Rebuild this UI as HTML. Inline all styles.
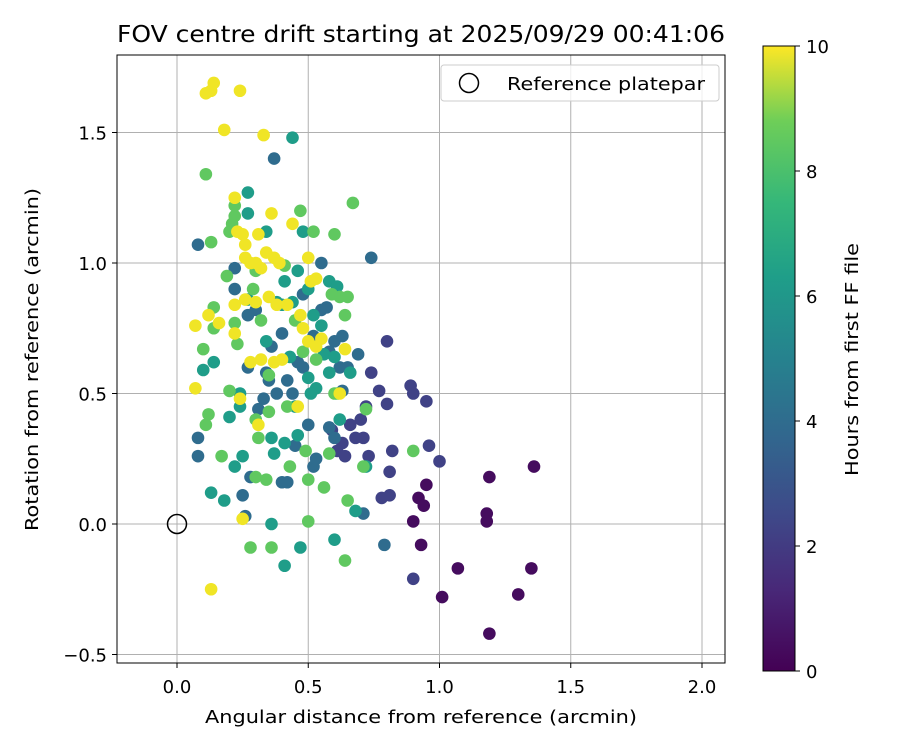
<!DOCTYPE html>
<html><head><meta charset="utf-8"><style>
body{margin:0;background:#fff;font-family:"DejaVu Sans","Liberation Sans",sans-serif}
svg text{font-family:"DejaVu Sans","Liberation Sans",sans-serif;fill:#000}
</style></head><body>
<svg id="chart" width="900" height="750">
<defs><linearGradient id="vir" x1="0" y1="1" x2="0" y2="0">
<stop offset="0" stop-color="#440154"/><stop offset="0.13" stop-color="#482878"/><stop offset="0.25" stop-color="#3e4989"/><stop offset="0.38" stop-color="#31688e"/><stop offset="0.5" stop-color="#26828e"/><stop offset="0.63" stop-color="#1f9e89"/><stop offset="0.75" stop-color="#35b779"/><stop offset="0.88" stop-color="#6ece58"/><stop offset="1" stop-color="#fde725"/>
</linearGradient></defs>
<g id="grid"></g><g id="pts"></g><g id="axes"></g>
</svg>
<script>
const NS="http://www.w3.org/2000/svg";
const xTicks=[0,0.5,1.0,1.5,2.0];
const yTicks=[-0.5,0,0.5,1.0,1.5];
const cTicks=[0,2,4,6,8,10];
const hours=[0.3,2,3.5,5.5,7.5,9.8];
const groupX=[
[1.19,1.30,1.35,1.07,1.01,1.36,1.19,1.18,1.18,0.90,0.92,0.93,0.95,0.94],
[0.90,0.96,1.00,0.95,0.89,0.90,0.82,0.81,0.78,0.81,0.80,0.80,0.73,0.71,0.70,0.72,0.77,0.74,0.66,0.68,0.63,0.61,0.64,0.59],
[0.79,0.71,0.60,0.58,0.63,0.69,0.74,0.52,0.53,0.50,0.45,0.40,0.42,0.28,0.25,0.26,0.37,0.08,0.08,0.08,0.35,0.34,0.38,0.42,0.46,0.55,0.57,0.55,0.22,0.22,0.27,0.33,0.31,0.44,0.48,0.52,0.60,0.62,0.63,0.65,0.58,0.48,0.40,0.30,0.27,0.36],
[0.27,0.34,0.34,0.38,0.44,0.50,0.55,0.53,0.51,0.58,0.58,0.61,0.62,0.66,0.72,0.68,0.60,0.41,0.37,0.36,0.46,0.24,0.20,0.24,0.14,0.10,0.18,0.13,0.22,0.25,0.41,0.36,0.47,0.40,0.41,0.46,0.48,0.52,0.50,0.45,0.43,0.56,0.60,0.44,0.27,0.27],
[0.13,0.11,0.22,0.22,0.21,0.20,0.19,0.22,0.23,0.20,0.17,0.12,0.11,0.10,0.14,0.14,0.29,0.30,0.32,0.35,0.35,0.30,0.31,0.34,0.30,0.28,0.36,0.43,0.42,0.49,0.50,0.50,0.56,0.58,0.65,0.64,0.71,0.72,0.59,0.62,0.64,0.61,0.60,0.53,0.48,0.41,0.45,0.60,0.90,0.67,0.65,0.52,0.47],
[0.11,0.14,0.13,0.24,0.18,0.33,0.36,0.31,0.22,0.23,0.25,0.26,0.26,0.28,0.30,0.32,0.34,0.37,0.39,0.44,0.50,0.53,0.51,0.22,0.26,0.30,0.35,0.38,0.42,0.47,0.48,0.12,0.07,0.16,0.22,0.28,0.32,0.37,0.40,0.07,0.24,0.31,0.46,0.55,0.64,0.62,0.25,0.13,0.50,0.53]];
const groupY=[
[-0.42,-0.27,-0.17,-0.17,-0.28,0.22,0.18,0.04,0.01,0.01,0.10,-0.08,0.15,0.07],
[-0.21,0.30,0.24,0.47,0.53,0.50,0.28,0.20,0.10,0.11,0.46,0.70,0.26,0.33,0.40,0.45,0.51,0.58,0.38,0.33,0.31,0.28,0.26,0.36],
[-0.08,0.04,0.33,0.37,0.51,0.65,1.02,0.22,0.25,0.38,0.30,0.16,0.16,0.18,0.11,0.03,1.40,1.07,0.26,0.33,0.55,0.58,0.50,0.55,0.62,0.82,0.83,1.00,0.98,0.90,0.60,0.48,0.44,0.50,0.60,0.72,0.70,0.60,0.72,0.60,0.66,0.88,0.73,0.82,0.80,0.68],
[1.27,1.12,0.70,0.85,0.85,0.90,0.76,0.52,0.50,0.58,0.93,0.91,0.40,0.58,0.22,0.05,-0.06,0.31,0.27,0.33,0.34,0.45,0.41,0.50,0.62,0.59,0.09,0.12,0.22,0.26,-0.16,0.00,-0.09,0.84,0.93,0.97,1.12,0.80,0.56,0.45,0.64,0.65,0.64,1.48,1.19,0.86],
[1.08,1.34,1.22,1.18,1.15,1.12,0.95,0.77,0.69,0.51,0.26,0.42,0.38,0.67,0.83,0.75,0.90,0.97,0.78,0.57,0.43,0.40,0.33,0.17,0.18,-0.09,-0.09,0.22,0.45,0.28,0.17,0.01,0.14,0.27,0.09,-0.14,0.22,0.44,0.88,0.87,0.80,0.50,0.50,0.63,0.66,0.99,0.78,1.11,0.28,1.23,0.87,1.12,1.20],
[1.65,1.69,1.66,1.66,1.51,1.49,1.19,1.11,1.25,1.12,1.11,1.07,1.02,1.00,1.00,0.98,1.04,1.02,1.00,1.15,1.02,0.94,0.93,0.84,0.86,0.85,0.87,0.84,0.84,0.80,0.75,0.80,0.76,0.77,0.73,0.62,0.63,0.62,0.63,0.52,0.48,0.38,0.45,0.71,0.67,0.50,0.02,-0.25,0.70,0.68]];
const L=117,R=725,T=55,B=663;
const xs=v=>177+v*262.5, ys=v=>524-v*261;
const cs=v=>671-v*62.5;
const vir=[[68,1,84],[72,40,120],[62,73,137],[49,104,142],[38,130,142],[31,158,137],[53,183,121],[110,206,88],[181,222,43],[253,231,37]];
function col(h){let t=Math.max(0,Math.min(1,h/10))*(vir.length-1);let i=Math.min(vir.length-2,Math.floor(t)),f=t-i;
const c=vir[i].map((a,k)=>Math.round(a+(vir[i+1][k]-a)*f));return `rgb(${c})`;}
function mk(tag,a,p){const e=document.createElementNS(NS,tag);for(const k in a)e.setAttribute(k,a[k]);(p||document.getElementById('chart')).appendChild(e);return e;}
const grid=document.getElementById('grid'),pts=document.getElementById('pts'),ax=document.getElementById('axes');
xTicks.forEach(v=>{const g=mk('line',{x1:xs(v),x2:xs(v),y1:T,y2:B,stroke:'#b0b0b0','stroke-width':1},grid);


mk('line',{x1:xs(v),x2:xs(v),y1:B,y2:B+5,stroke:'#000'},ax);
const t=mk('text',{x:xs(v),y:B+30,'text-anchor':'middle','font-size':18},ax);t.textContent=v.toFixed(1);

});
yTicks.forEach(v=>{const g=mk('line',{x1:L,x2:R,y1:ys(v),y2:ys(v),stroke:'#b0b0b0','stroke-width':1},grid);


mk('line',{x1:L-5,x2:L,y1:ys(v),y2:ys(v),stroke:'#000'},ax);
const t=mk('text',{x:L-10,y:ys(v)+7,'text-anchor':'end','font-size':18},ax);t.textContent=(v<0?'\u2212':'')+Math.abs(v).toFixed(1);

});
groupX.forEach((gx,gi)=>gx.forEach((x,j)=>{const c=mk('circle',{cx:xs(x),cy:ys(groupY[gi][j]),r:6.3,fill:col(hours[gi])},pts);

}));
const ref=mk('circle',{cx:xs(0),cy:ys(0),r:9.5,fill:'none',stroke:'#000','stroke-width':1.5},ax);


mk('rect',{x:L,y:T,width:R-L,height:B-T,fill:'none',stroke:'#000','stroke-width':1},ax);
const cb=mk('rect',{x:763,y:46,width:32,height:625,fill:'url(#vir)',stroke:'#000','stroke-width':1},ax);


cTicks.forEach(v=>{mk('line',{x1:795,x2:800,y1:cs(v),y2:cs(v),stroke:'#000'},ax);
const t=mk('text',{x:806,y:cs(v)+7,'font-size':18},ax);t.textContent=v;

});
</script>
<svg style="position:absolute;left:0;top:0" width="900" height="750">
<text x="117" y="42" font-size="23" textLength="608" lengthAdjust="spacingAndGlyphs">FOV centre drift starting at 2025/09/29 00:41:06</text>
<text x="205" y="723" font-size="18" textLength="432" lengthAdjust="spacingAndGlyphs">Angular distance from reference (arcmin)</text>
<text transform="translate(38,531) rotate(-90)" font-size="18" textLength="343" lengthAdjust="spacingAndGlyphs">Rotation from reference (arcmin)</text>
<text transform="translate(858,476) rotate(-90)" font-size="18" textLength="233" lengthAdjust="spacingAndGlyphs">Hours from first FF file</text>
<g>
<rect x="441" y="65" width="278" height="36" rx="3" fill="#fff" fill-opacity="0.8" stroke="#ccc"/>
<circle cx="469" cy="83" r="9.5" fill="none" stroke="#000" stroke-width="1.5"/>
<text x="507" y="90" font-size="18" textLength="198" lengthAdjust="spacingAndGlyphs">Reference platepar</text>
</g>
</svg>
</body></html>
